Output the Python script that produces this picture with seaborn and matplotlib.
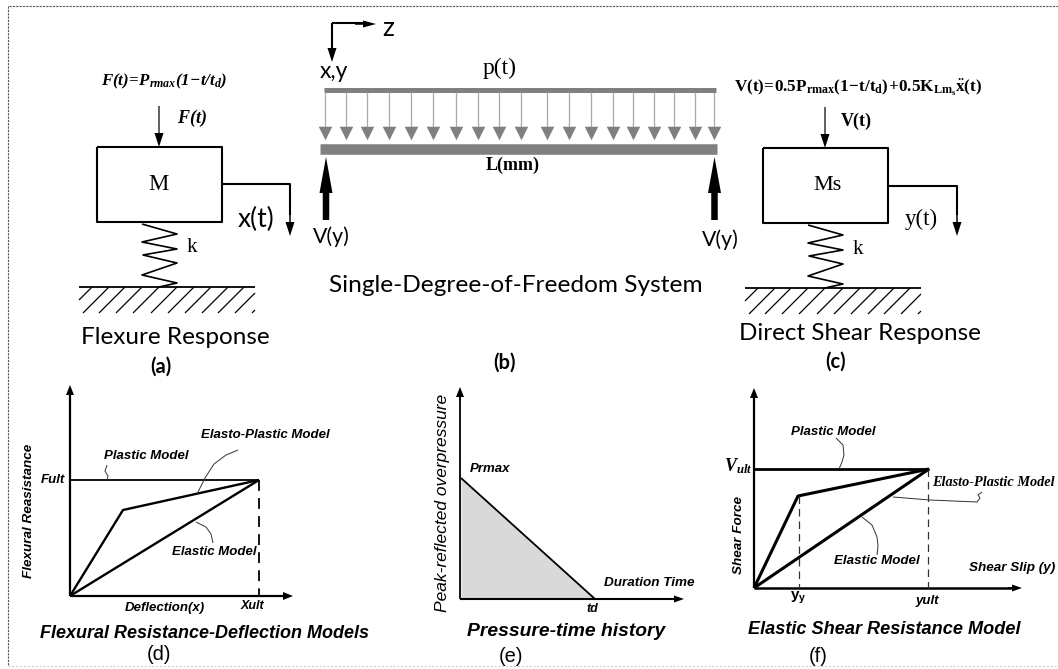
import matplotlib
matplotlib.use('Agg')
import matplotlib.pyplot as plt
import seaborn as sns

# figure is drawn in image pixels (x right, y down)
W, H = 1058, 669

# border
border_x = [1058, 8, 8]
border_y = [6, 6, 666]
border_bottom_x = [8, 1058]
border_bottom_y = [666, 666]

# (a) / (c) mass-spring systems
box_a_x = [97, 222, 222, 97, 97]
box_a_y = [147, 147, 222, 222, 147]
out_a_x = [222, 290, 290]
out_a_y = [184, 184, 215]
spring_a_x = [142, 177, 142, 177, 143, 177, 142, 177, 159]
spring_a_y = [224, 234, 242, 249, 255, 263, 275, 283, 287]
ground_a = [79, 255]
hatch_a = [66, 83, 99, 116, 133, 151, 168, 185, 202, 218, 235, 252]

box_c_x = [763, 888, 888, 763, 763]
box_c_y = [148, 148, 223, 223, 148]
out_c_x = [888, 957, 957]
out_c_y = [186, 186, 215]
spring_c_x = [808, 843, 808, 843, 809, 843, 808, 843, 825]
spring_c_y = [225, 235, 243, 250, 256, 264, 276, 284, 288]
ground_c = [745, 921]
hatch_c = [732, 749, 765, 782, 799, 817, 834, 851, 868, 884, 901, 918]

# (b) beam
load_x = [325, 346, 367, 389, 411, 433, 456, 478, 499, 521, 547, 569, 591, 613,
          633, 654, 674, 695, 714]

# (d) resistance curves
d_plastic_x = [70, 259]
d_plastic_y = [480, 480]
d_elastoplastic_x = [70, 123, 259]
d_elastoplastic_y = [596, 510, 480]
d_elastic_x = [70, 259]
d_elastic_y = [596, 480]
d_leader_plastic = ([107, 108, 105, 107], [480, 476, 471, 465])
d_leader_elasto = ([197, 205, 214, 226, 238], [494, 478, 464, 455, 450])
d_leader_elastic = ([196, 206, 211, 213], [522, 527, 534, 543])

# (e) pressure history
e_time = [461, 595]
e_pressure = [478, 599]

# (f) shear curves
f_plastic_x = [754, 929]
f_plastic_y = [469, 469]
f_elastoplastic_x = [754, 798, 929]
f_elastoplastic_y = [588, 496, 469]
f_elastic_x = [754, 929]
f_elastic_y = [588, 469]
f_leader_plastic = ([836, 843, 844, 842, 839], [438, 445, 455, 462, 469])
f_leader_elasto = ([893, 930, 977, 980, 978, 982], [497, 500, 502, 498, 495, 492])
f_leader_elastic = ([862, 872, 877, 878, 877], [517, 525, 537, 546, 555])

sns.set_theme(style='white')
plt.rcParams['mathtext.fontset'] = 'custom'
plt.rcParams['mathtext.rm'] = 'Liberation Serif'
plt.rcParams['mathtext.it'] = 'Liberation Serif:italic'
plt.rcParams['mathtext.bf'] = 'Liberation Serif:bold'
plt.rcParams['mathtext.bfit'] = 'Liberation Serif:italic:bold'
plt.rcParams['mathtext.sf'] = 'Liberation Sans:bold'

fig = plt.figure(figsize=(W / 100, H / 100), dpi=100)
ax = fig.add_axes([0, 0, 1, 1])
ax.set_xlim(0, W)
ax.set_ylim(H, 0)
ax.axis('off')


def line(x, y, lw=1.5, color='black', ls='-', cap='butt'):
    sns.lineplot(x=x, y=y, sort=False, estimator=None, ax=ax, color=color,
                 linewidth=lw, linestyle=ls, solid_capstyle=cap, legend=False)


def arrow(x0, y0, x1, y1, lw=1.5, hw=9, hl=14, color='black'):
    ax.arrow(x0, y0, x1 - x0, y1 - y0, width=lw, head_width=hw, head_length=hl,
             length_includes_head=True, color=color, linewidth=0, zorder=4)


def label(x, y, s, size=10, family='Liberation Sans', **kw):
    kw.setdefault('ha', 'center')
    kw.setdefault('va', 'center')
    ax.text(x, y, s, fontsize=size, family=family, color='black', **kw)


def ground(xr, y, starts):
    # hatching at 45 degrees, clipped to the ground line
    line(xr, [y, y], lw=1.3)
    for hx in starts:
        x0, x1 = max(hx, xr[0]), min(hx + 26, xr[1])
        line([x0, x1], [y + 26 - (x0 - hx), y + 26 - (x1 - hx)], lw=0.9)


SERIF = 'Liberation Serif'
CAL = 'Lato'

line(border_x, border_y, lw=0.8, color='#555555', ls=(0, (2, 1)))
line(border_bottom_x, border_bottom_y, lw=0.7, color='#c4c4c4', ls=(0, (2, 2)))

# (a)
line(box_a_x, box_a_y, lw=1.5)
line(out_a_x, out_a_y, lw=1.5)
arrow(290, 210, 290, 236, lw=1.5)
arrow(159, 106, 159, 147, lw=1.2)
line(spring_a_x, spring_a_y, lw=1.2)
ground(ground_a, 287, hatch_a)
label(164, 81, r'$\mathbfit{F(t)\!=\!P_{rmax}(1\!-\!t/t_d)}$', size=12.2)
label(192, 118, r'$\mathbfit{F(t)}$', size=13)
label(158, 185, 'M', size=16.5, family=SERIF)
label(256, 219, 'x(t)', size=19, family=CAL)
label(192, 248, 'k', size=15, family=SERIF)
label(175, 337, 'Flexure Response', size=17.5, family=CAL)
label(161, 367, '(a)', size=14.5, family=CAL, fontweight='bold')

# (b)
line([332, 365], [23, 23], lw=1.5)
line([332, 332], [23, 50], lw=1.5)
arrow(355, 24, 376, 24, lw=1.5, hw=7, hl=13)
arrow(332, 40, 332, 62, lw=1.5, hw=9, hl=14)
label(388, 28, 'z', size=19, family=CAL)
label(334, 72, 'x,y', size=16.5, family=CAL)
label(500, 68, 'p(t)', size=17, family=SERIF)
line([324, 716], [89.5, 89.5], lw=3.6, color='#808080')
line([320, 717], [148.5, 148.5], lw=7.6, color='#808080')
for lx in load_x:
    line([lx, lx], [92, 130], lw=0.9, color='#a8a8a8')
sns.scatterplot(x=load_x, y=[133] * len(load_x), marker='v', s=95, color='#808080',
                linewidth=0, ax=ax, legend=False, zorder=3)
arrow(326, 220, 326, 157, lw=6.5, hw=13, hl=36)
arrow(714.5, 220, 714.5, 157, lw=6.5, hw=13, hl=36)
label(331, 237, 'V(y)', size=15.3, family=CAL)
label(720, 240, 'V(y)', size=15.3, family=CAL)
label(513, 165, 'L(mm)', size=13, family=SERIF, fontweight='bold')
label(516, 285, 'Single-Degree-of-Freedom System', size=17.6, family=CAL)
label(504, 363, '(b)', size=14.5, family=CAL, fontweight='bold')

# (c)
line(box_c_x, box_c_y, lw=1.5)
line(out_c_x, out_c_y, lw=1.5)
arrow(957, 210, 957, 236, lw=1.5)
arrow(825, 107, 825, 148, lw=1.2)
line(spring_c_x, spring_c_y, lw=1.2)
ground(ground_c, 288, hatch_c)
label(858, 88, r'$\mathbf{V(t)\!=\!0.5P_{rmax}(1\!-\!t/t_d)\!+\!0.5K_{Lm_s}\ddot{x}(t)}$', size=12.3)
label(856, 121, 'V(t)', size=13, family=SERIF, fontweight='bold')
label(828, 185, 'Ms', size=16, family=SERIF)
label(921, 219, 'y(t)', size=16.5, family=SERIF)
label(858, 249, 'k', size=15, family=SERIF)
label(860, 334, 'Direct Shear Response', size=17.5, family=CAL)
label(836, 362, '(c)', size=14.5, family=CAL, fontweight='bold')

# (d)
line([70, 70], [596, 395], lw=1.6)
arrow(70, 400, 70, 385, lw=1.6, hw=8, hl=10)
line([70, 285], [596, 596], lw=1.6)
arrow(280, 596, 293, 596, lw=1.6, hw=8, hl=10)
line(d_plastic_x, d_plastic_y, lw=1.3)
line(d_elastoplastic_x, d_elastoplastic_y, lw=1.7)
line(d_elastic_x, d_elastic_y, lw=1.7)
line([259, 259], [480, 596], lw=1.3, ls=(0, (6, 4)))
line(*d_leader_plastic, lw=0.7, color='#333333')
line(*d_leader_elasto, lw=0.7, color='#333333')
line(*d_leader_elastic, lw=0.7, color='#333333')
ital = dict(fontstyle='italic', fontweight='bold')
label(29, 511, 'Flexural Reasistance', size=9.7, rotation=90, **ital)
label(53, 480, 'Fult', size=9.5, **ital)
label(146, 456, 'Plastic Model', size=9.5, **ital)
label(265, 435, 'Elasto-Plastic Model', size=9.5, **ital)
label(214, 552, 'Elastic Model', size=9.5, **ital)
label(165, 608, 'Deflection(x)', size=9.5, **ital)
label(252, 606, 'Xult', size=9, **ital)
label(204, 634, 'Flexural Resistance-Deflection Models', size=13, **ital)
label(159, 655, '(d)', size=14.5)

# (e)
ax.fill_between(e_time, e_pressure, [599, 599], color='#d9d9d9', linewidth=0)
line(e_time, e_pressure, lw=1.3)
line([460, 460], [599, 395], lw=1.3)
arrow(460, 400, 460, 387, lw=1.3, hw=8, hl=10)
line([460, 675], [599, 599], lw=1.5)
arrow(670, 599, 684, 599, lw=1.5, hw=7, hl=10)
label(442, 503, 'Peak-reflected overpressure', size=12.5, rotation=90,
      fontstyle='italic')
label(490, 469, 'Prmax', size=9.5, **ital)
label(649, 583, 'Duration Time', size=9.7, **ital)
label(592, 609, 'td', size=9, **ital)
label(566, 632, 'Pressure-time history', size=13.9, **ital)
label(511, 656, '(e)', size=14.5)

# (f)
line([754, 754], [588, 398], lw=1.6)
arrow(754, 402, 754, 388, lw=1.6, hw=8, hl=10)
line([754, 1012], [588, 588], lw=1.8)
arrow(1008, 588, 1022, 588, lw=1.8, hw=7, hl=10)
line(f_plastic_x, f_plastic_y, lw=2)
line(f_elastoplastic_x, f_elastoplastic_y, lw=2.2)
line(f_elastic_x, f_elastic_y, lw=2.2)
line([799, 799], [496, 588], lw=0.9, color='#333333', ls=(0, (6, 4)))
line([928, 928], [469, 588], lw=0.9, color='#333333', ls=(0, (6, 4)))
line(*f_leader_plastic, lw=0.7, color='#333333')
line(*f_leader_elasto, lw=0.7, color='#333333')
line(*f_leader_elastic, lw=0.7, color='#333333')
label(739, 535, 'Shear Force', size=9.7, rotation=90, **ital)
label(738, 466, r'$\mathbfit{V_{ult}}$', size=13)
label(833, 432, 'Plastic Model', size=9.5, **ital)
label(993, 482, 'Elasto-Plastic Model', size=10.3, family=SERIF, **ital)
label(877, 561, 'Elastic Model', size=9.6, **ital)
label(1012, 568, 'Shear Slip (y)', size=9.7, **ital)
label(798, 598, r'$\mathsf{y_y}$', size=11)
label(927, 601, 'yult', size=9.5, **ital)
label(884, 630, 'Elastic Shear Resistance Model', size=13.1, **ital)
label(818, 656, '(f)', size=14.5)

fig.savefig('out.png', dpi=100, facecolor='white')
